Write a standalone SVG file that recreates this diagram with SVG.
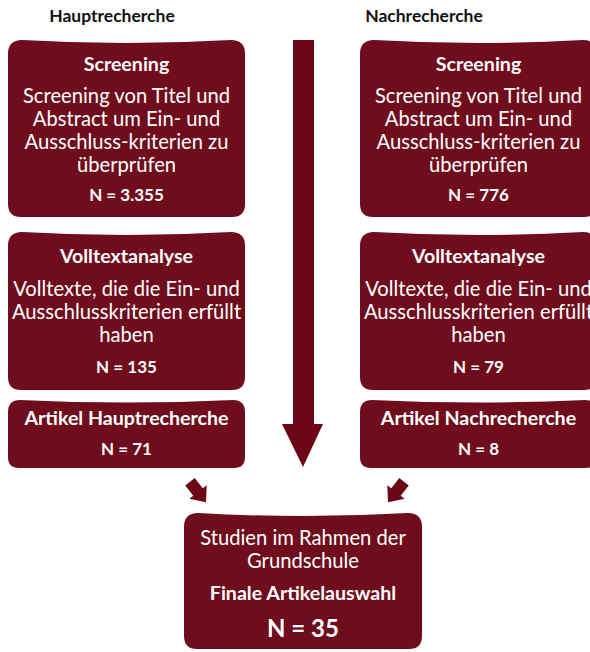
<svg xmlns="http://www.w3.org/2000/svg" width="590" height="652" viewBox="0 0 590 652">
<defs>
<style>
.box{fill:#700d1c}
.arr{fill:#6c0616}
text{font-family:Lato,"Open Sans","Liberation Sans",sans-serif;text-anchor:middle;fill:#ffffff}
.hdr{fill:#111111;font-weight:bold;font-size:17.5px}
.t{font-weight:bold;font-size:19.6px}
.b{font-size:20.2px}
.n{font-weight:bold;font-size:17px}
.big{font-weight:bold;font-size:24px}
</style>
<path id="sa" d="M-6,-13 L6,-13 L6,0 L11,0 L0,13 L-11,0 L-6,0 Z"/>
</defs>
<rect width="590" height="652" fill="#ffffff"/>
<text class="hdr" x="112" y="22">Hauptrecherche</text>
<text class="hdr" x="424" y="22">Nachrecherche</text>
<g id="connectors">
<polygon class="arr" points="293,40 314,40 314,424 323,424 303,467 282,424 293,424"/>
<use href="#sa" class="arr" transform="translate(198,492) rotate(-38)"/>
<use href="#sa" class="arr" transform="translate(396,492) rotate(38)"/>
</g>
<g id="screening-haupt">
<path class="box" d="M8,54 Q8,40 22,40 Q126.5,46 231,40 Q245,40 245,54 L245,204 Q245,217 232,217 L21,217 Q8,217 8,204 Z"/>
<text class="t" x="126.5" y="71">Screening</text>
<text class="b" x="126.5" y="103">Screening von Titel und</text>
<text class="b" x="126.5" y="126">Abstract um Ein- und</text>
<text class="b" x="126.5" y="149">Ausschluss-kriterien zu</text>
<text class="b" x="126.5" y="172">überprüfen</text>
<text class="n" x="126.5" y="201">N = 3.355</text>
</g>
<g id="volltext-haupt">
<path class="box" d="M8,246 Q8,232 22,232 Q126.5,238 231,232 Q245,232 245,246 L245,377 Q245,390 232,390 L21,390 Q8,390 8,377 Z"/>
<text class="t" x="126.5" y="263">Volltextanalyse</text>
<text class="b" x="126.5" y="296">Volltexte, die die Ein- und</text>
<text class="b" x="126.5" y="319">Ausschlusskriterien erfüllt</text>
<text class="b" x="126.5" y="342">haben</text>
<text class="n" x="126.5" y="373">N = 135</text>
</g>
<g id="artikel-haupt">
<path class="box" d="M8,412 Q8,400 20,400 Q126.5,405 233,400 Q245,400 245,412 L245,457 Q245,468 234,468 L19,468 Q8,468 8,457 Z"/>
<text class="t" x="126.5" y="425">Artikel Hauptrecherche</text>
<text class="n" x="126.5" y="455">N = 71</text>
</g>
<g id="screening-nach">
<path class="box" d="M360,54 Q360,40 374,40 Q478.5,46 583,40 Q597,40 597,54 L597,204 Q597,217 584,217 L373,217 Q360,217 360,204 Z"/>
<text class="t" x="478.5" y="71">Screening</text>
<text class="b" x="478.5" y="103">Screening von Titel und</text>
<text class="b" x="478.5" y="126">Abstract um Ein- und</text>
<text class="b" x="478.5" y="149">Ausschluss-kriterien zu</text>
<text class="b" x="478.5" y="172">überprüfen</text>
<text class="n" x="478.5" y="201">N = 776</text>
</g>
<g id="volltext-nach">
<path class="box" d="M360,246 Q360,232 374,232 Q478.5,238 583,232 Q597,232 597,246 L597,377 Q597,390 584,390 L373,390 Q360,390 360,377 Z"/>
<text class="t" x="478.5" y="263">Volltextanalyse</text>
<text class="b" x="478.5" y="296">Volltexte, die die Ein- und</text>
<text class="b" x="478.5" y="319">Ausschlusskriterien erfüllt</text>
<text class="b" x="478.5" y="342">haben</text>
<text class="n" x="478.5" y="373">N = 79</text>
</g>
<g id="artikel-nach">
<path class="box" d="M360,412 Q360,400 372,400 Q478.5,405 585,400 Q597,400 597,412 L597,457 Q597,468 586,468 L371,468 Q360,468 360,457 Z"/>
<text class="t" x="478.5" y="425">Artikel Nachrecherche</text>
<text class="n" x="478.5" y="455">N = 8</text>
</g>
<g id="final">
<path class="box" d="M184,527 Q184,513 198,513 Q303,519 408,513 Q422,513 422,527 L422,636 Q422,649 409,649 L197,649 Q184,649 184,636 Z"/>
<text class="b" x="303" y="545">Studien im Rahmen der</text>
<text class="b" x="303" y="568">Grundschule</text>
<text class="t" x="303" y="600">Finale Artikelauswahl</text>
<text class="big" x="303" y="637">N = 35</text>
</g>
</svg>
